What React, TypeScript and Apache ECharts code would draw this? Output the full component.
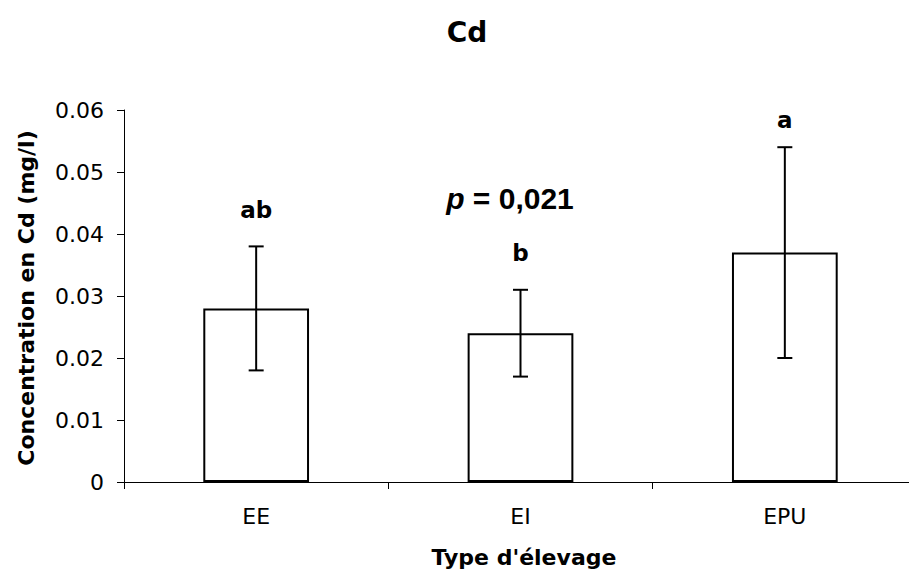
import React, { useEffect, useRef } from "react";
import * as echarts from "echarts";

const categories = ["EE", "EI", "EPU"];
const means = [0.028, 0.024, 0.037];
const errLow = [0.018, 0.017, 0.02];
const errHigh = [0.038, 0.031, 0.054];
const letters = ["ab", "b", "a"];
const letterY = [0.0439, 0.0369, 0.0584];
const yTicks = { min: 0, max: 0.06, interval: 0.01 };

export default function App() {
  const ref = useRef<HTMLDivElement>(null);
  useEffect(() => {
    if (!ref.current) return;
    const chart = echarts.init(ref.current, null, { renderer: "svg" });
    const font = "'DejaVu Sans', sans-serif";
    const font2 = "'Liberation Sans', Arial, sans-serif";
    chart.setOption({
      animation: false,
      backgroundColor: "#ffffff",
      grid: { left: 124, top: 110, bottom: 99, right: -7, containLabel: false },
      title: {
        text: "Cd",
        left: 462,
        top: 13,
        textAlign: "center",
        textStyle: { fontFamily: font, fontWeight: "bold", fontSize: 28, color: "#000" },
      },
      xAxis: {
        type: "category",
        data: categories,
        axisLine: { lineStyle: { color: "#000", width: 1 } },
        axisTick: { show: true, length: 7, lineStyle: { color: "#000" } },
        axisLabel: { color: "#000", fontFamily: font, fontSize: 22, margin: 23 },
        splitLine: { show: false },
      },
      yAxis: {
        type: "value",
        min: yTicks.min,
        max: yTicks.max,
        interval: yTicks.interval,
        axisLine: { show: true, lineStyle: { color: "#000", width: 1 } },
        axisTick: { show: true, length: 7, lineStyle: { color: "#000" } },
        axisLabel: { color: "#000", fontFamily: font, fontSize: 22, margin: 20 },
        splitLine: { show: false },
      },
      graphic: [
        {
          type: "text",
          x: 524,
          y: 557,
          style: {
            text: "Type d'élevage",
            font: `bold 22px ${font}`,
            fill: "#000",
            align: "center",
            verticalAlign: "middle",
          },
        },
        {
          type: "text",
          x: 26,
          y: 298,
          rotation: Math.PI / 2,
          style: {
            text: "Concentration en Cd (mg/l)",
            font: `bold 22px ${font}`,
            fill: "#000",
            align: "center",
            verticalAlign: "middle",
          },
        },
        {
          type: "text",
          x: 510,
          y: 198,
          style: {
            text: "{i|p} = 0,021",
            font: `bold 30px ${font2}`,
            fill: "#000",
            align: "center",
            verticalAlign: "middle",
            rich: {
              i: { fontStyle: "italic", fontWeight: "bold", fontSize: 30, fontFamily: font2, fill: "#000" },
            },
          },
        },
      ],
      series: [
        {
          type: "bar",
          data: means,
          barWidth: "40%",
          itemStyle: { color: "#ffffff", borderColor: "#000", borderWidth: 2 },
          z: 2,
        },
        {
          type: "custom",
          z: 3,
          data: categories.map((c, i) => [i, errLow[i], errHigh[i]]),
          renderItem: (params: any, api: any) => {
            const x = api.value(0);
            const lo = api.coord([x, api.value(1)]);
            const hi = api.coord([x, api.value(2)]);
            const cap = 7.5;
            const style = { stroke: "#000", lineWidth: 2 };
            return {
              type: "group",
              children: [
                { type: "line", shape: { x1: lo[0], y1: lo[1], x2: hi[0], y2: hi[1] }, style },
                { type: "line", shape: { x1: hi[0] - cap, y1: hi[1], x2: hi[0] + cap, y2: hi[1] }, style },
                { type: "line", shape: { x1: lo[0] - cap, y1: lo[1], x2: lo[0] + cap, y2: lo[1] }, style },
              ],
            };
          },
        },
        {
          type: "custom",
          z: 4,
          data: categories.map((c, i) => [i, letterY[i]]),
          renderItem: (params: any, api: any) => {
            const p = api.coord([api.value(0), api.value(1)]);
            return {
              type: "text",
              x: p[0],
              y: p[1],
              style: {
                text: letters[params.dataIndex],
                font: `bold 23px ${font}`,
                fill: "#000",
                align: "center",
                verticalAlign: "middle",
              },
            };
          },
        },
      ],
    });
    return () => chart.dispose();
  }, []);
  return <div ref={ref} style={{ width: 917, height: 581, margin: -8 }} />;
}
